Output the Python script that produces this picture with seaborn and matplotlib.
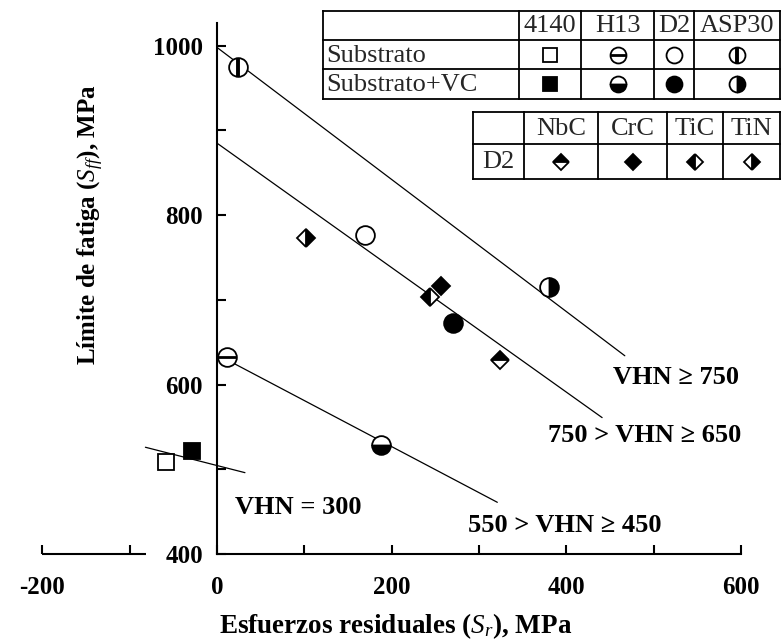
import matplotlib
matplotlib.use("Agg")
import matplotlib.pyplot as plt
import numpy as np
import pandas as pd
import seaborn as sns

# ---------------------------------------------------------------- data
steels = ["4140", "H13", "D2", "ASP30"]
# uncoated substrate: residual stress Sr and fatigue limit Sff (MPa)
substrate_sr = [-58, 12, 170, 24]
substrate_sff = [509, 632, 777, 975]
# substrate with VC coating
vc_sr = [-29, 188, 270, 380]
vc_sff = [522, 529, 673, 715]
# D2 steel with other hard coatings
coatings = ["NbC", "CrC", "TiC", "TiN"]
d2_coat_sr = [324, 256, 244, 102]
d2_coat_sff = [629, 716, 703, 773]
# hardness groups and the end points of their trend lines
groups = ["VHN \u2265 750", "750 > VHN \u2265 650", "550 > VHN \u2265 450", "VHN = 300"]
trend_sr = [[0, 467], [0, 441], [10, 321], [-82, 32]]
trend_sff = [[998, 634], [885, 561], [630, 461], [526, 496]]

x_major = [-200, 0, 200, 400, 600]
x_minor = [-100, 100, 300, 500]
y_major = [400, 600, 800, 1000]
y_minor = [500, 700, 900]

# ---------------------------------------------------------------- style
sns.set_theme(style="white")
plt.rcParams["font.family"] = ["Liberation Serif", "DejaVu Serif"]
plt.rcParams["axes.unicode_minus"] = False
plt.rcParams["mathtext.fontset"] = "custom"
plt.rcParams["mathtext.rm"] = "Liberation Serif:bold"
plt.rcParams["mathtext.it"] = "Liberation Serif:italic"
plt.rcParams["mathtext.bf"] = "Liberation Serif:bold"

W, H = 782, 643
fig = plt.figure(figsize=(W / 100, H / 100), dpi=100)
fig.patch.set_facecolor("white")
ax = fig.add_axes([0, 0, 1, 1])
ax.set_facecolor("none")
ax.set_xlim(-248.5, 647)
ax.set_ylim(294.9, 1054)

# marker look for every specimen type
STYLE = {
    "4140_sub": dict(marker="s", ms=12, mfc="white"),
    "4140_vc": dict(marker="s", ms=12, mfc="black"),
    "H13_sub": dict(marker="o", ms=13.5, mfc="white", bar="_"),
    "H13_vc": dict(marker="o", ms=13.5, mfc="black", fillstyle="bottom"),
    "D2_sub": dict(marker="o", ms=13.5, mfc="white"),
    "D2_vc": dict(marker="o", ms=13.5, mfc="black"),
    "ASP30_sub": dict(marker="o", ms=13.5, mfc="white", bar="|"),
    "ASP30_vc": dict(marker="o", ms=13.5, mfc="black", fillstyle="right"),
    "NbC": dict(marker="D", ms=8.7, mfc="black", fillstyle="top"),
    "CrC": dict(marker="D", ms=8.7, mfc="black"),
    "TiC": dict(marker="D", ms=8.7, mfc="black", fillstyle="left"),
    "TiN": dict(marker="D", ms=8.7, mfc="black", fillstyle="right"),
}


def put_marker(axis, x, y, key, scale=1.0):
    st = dict(STYLE[key])
    bar = st.pop("bar", None)
    ms = st.pop("ms") * scale
    axis.plot(x, y, linestyle="none", ms=ms, mec="black", mew=1.3,
              markerfacecoloralt="white", zorder=5, clip_on=False, **st)
    if bar:
        axis.plot(x, y, linestyle="none", marker=bar, ms=ms, mec="black",
                  mew=2.8 if bar == "|" else 2.0, zorder=6, clip_on=False)


# ---------------------------------------------------------------- trend lines
trend_df = pd.DataFrame({
    "Sr": np.concatenate(trend_sr),
    "Sff": np.concatenate(trend_sff),
    "grupo": np.repeat(groups, 2),
})
sns.lineplot(data=trend_df, x="Sr", y="Sff", units="grupo", estimator=None,
             sort=False, color="black", lw=0.9, ax=ax, legend=False)

# ---------------------------------------------------------------- points
for s, x, y in zip(steels, substrate_sr, substrate_sff):
    put_marker(ax, x, y, s + "_sub")
for s, x, y in zip(steels, vc_sr, vc_sff):
    put_marker(ax, x, y, s + "_vc")
for c, x, y in zip(coatings, d2_coat_sr, d2_coat_sff):
    put_marker(ax, x, y, c)

# hardness group labels
label_pos = [(453, 608), (379, 540), (287, 434), (21, 455)]
for g, (lx, ly) in zip(groups, label_pos):
    ax.text(lx, ly, g, ha="left", va="center", fontsize=19,
            fontweight="bold", color="black")

# ---------------------------------------------------------------- axes
for side in ["top", "right"]:
    ax.spines[side].set_visible(False)
ax.spines["left"].set_position(("data", 0))
ax.spines["bottom"].set_position(("data", 400))
ax.spines["left"].set_bounds(400, 1027)
ax.spines["bottom"].set_bounds(0, 600)
for side in ["left", "bottom"]:
    ax.spines[side].set_linewidth(1.5)
    ax.spines[side].set_color("black")
# short piece of the stress axis on the compressive side
ax.plot([-200, -81], [400, 400], color="black", lw=1.5,
        solid_capstyle="butt", clip_on=False)

ax.set_xticks(x_major)
ax.set_xticks(x_minor, minor=True)
ax.set_yticks(y_major)
ax.set_yticks(y_minor, minor=True)
ax.set_xticklabels([str(v) for v in x_major])
ax.set_yticklabels([str(v) for v in y_major])
ax.tick_params(which="both", bottom=True, left=True, top=False, right=False,
               direction="in", length=6.5, width=1.5, color="black")
ax.tick_params(axis="x", which="major", pad=16)
ax.tick_params(axis="y", which="major", pad=10)
for lab in ax.get_xticklabels() + ax.get_yticklabels():
    lab.set_fontsize(18)
    lab.set_fontweight("bold")
    lab.set_color("black")

ax.set_xlabel("Esfuerzos residuales ($S_r$), MPa", fontsize=19.5,
              fontweight="bold", color="black")
ax.set_ylabel("L\u00edmite de fatiga ($S_{ff}$), MPa", fontsize=18,
              fontweight="bold", color="black")
ax.xaxis.set_label_coords(0.506, 0.050)
ax.yaxis.set_label_coords(0.135, 0.65)

# ---------------------------------------------------------------- key tables
tab = fig.add_axes([0, 0, 1, 1])
tab.set_xlim(0, W)
tab.set_ylim(H, 0)
tab.axis("off")
tab.set_facecolor("none")


def draw_grid(xe, ye):
    tab.fill_between([xe[0], xe[-1]], ye[0], ye[-1], color="white", zorder=1)
    for x in xe:
        tab.plot([x, x], [ye[0], ye[-1]], color="black", lw=1.3, zorder=2,
                 solid_capstyle="projecting")
    for y in ye:
        tab.plot([xe[0], xe[-1]], [y, y], color="black", lw=1.3, zorder=2,
                 solid_capstyle="projecting")


def centers(e):
    return [(a + b) / 2 for a, b in zip(e[:-1], e[1:])]


TAB_FS = 19
t1x = [323, 519, 581, 654, 694, 780]
t1y = [11, 40, 69, 99]
draw_grid(t1x, t1y)
cx, cy = centers(t1x), centers(t1y)
for s, x in zip(steels, cx[1:]):
    tab.text(x, cy[0] + 1, s, ha="center", va="center", fontsize=TAB_FS,
             zorder=3)
tab.text(t1x[0] + 3, cy[1] + 1, "Substrato", ha="left", va="center",
         fontsize=TAB_FS, zorder=3)
tab.text(t1x[0] + 3, cy[2] + 1, "Substrato+VC", ha="left", va="center",
         fontsize=TAB_FS, zorder=3)
for s, x in zip(steels, cx[1:]):
    put_marker(tab, x, cy[1], s + "_sub", scale=0.85)
    put_marker(tab, x, cy[2], s + "_vc", scale=0.85)

t2x = [473, 524, 598, 667, 723, 780]
t2y = [112, 144, 179]
draw_grid(t2x, t2y)
cx, cy = centers(t2x), centers(t2y)
for c, x in zip(coatings, cx[1:]):
    tab.text(x, cy[0] + 1, c, ha="center", va="center", fontsize=TAB_FS,
             zorder=3)
    put_marker(tab, x, cy[1], c, scale=0.9)
tab.text((t2x[0] + t2x[1]) / 2, cy[1] + 1, "D2", ha="center", va="center",
         fontsize=TAB_FS, zorder=3)

fig.savefig("out.png", dpi=100, facecolor="white")
